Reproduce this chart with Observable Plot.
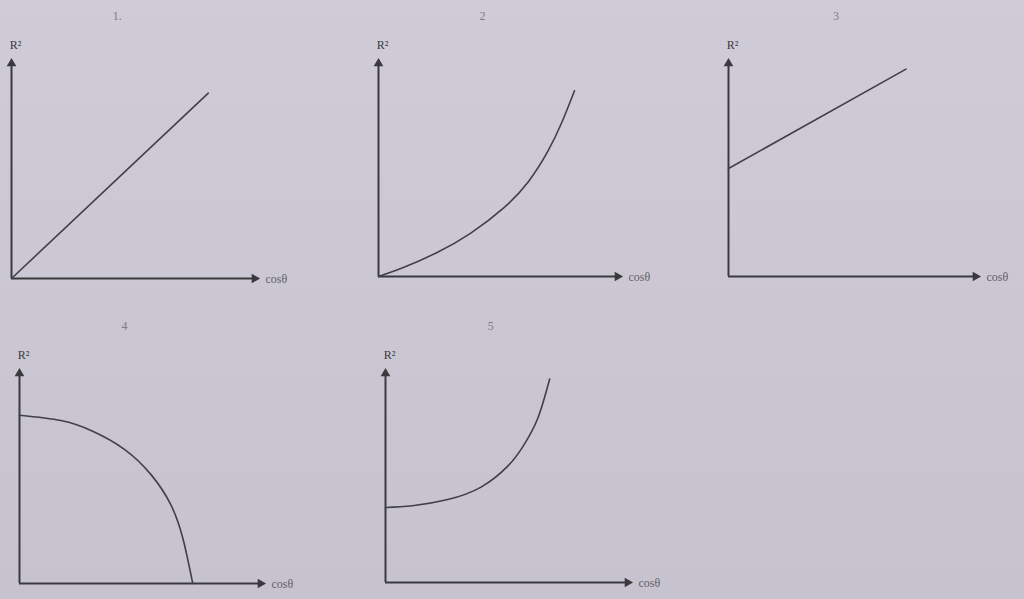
<!DOCTYPE html>
<html>
<head>
<meta charset="utf-8">
<script src="https://cdn.jsdelivr.net/npm/d3@7"></script>
<script src="https://cdn.jsdelivr.net/npm/@observablehq/plot@0.6"></script>
<style>
  html, body { margin: 0; padding: 0; width: 1024px; height: 599px; overflow: hidden; }
  body { background: linear-gradient(180deg, #d0ccd7 0%, #cbc7d2 55%, #c7c3ce 100%); }
  #wrap { position: relative; width: 1024px; height: 599px; }
  #wrap > svg { position: absolute; background: transparent; overflow: visible; }
</style>
</head>
<body>
<div id="wrap"></div>
<script>
// ---- data (normalised: cosθ on x from 0 to 1, R² on y from 0 to 1) ----
const panelTitles = ["1.", "2", "3", "4", "5"];
const yLabel = "R²";
const xLabel = "cosθ";

const p1X = [0, 0.80];
const p1Y = [0, 0.85];

const p2X = [0, 0.10, 0.24, 0.38, 0.52, 0.62, 0.70, 0.76, 0.81];
const p2Y = [0, 0.04, 0.11, 0.20, 0.32, 0.44, 0.58, 0.72, 0.86];

const p3X = [0, 0.71];
const p3Y = [0.50, 0.96];

const p4X = [0, 0.17, 0.30, 0.43, 0.54, 0.62, 0.67, 0.71];
const p4Y = [0.79, 0.765, 0.715, 0.63, 0.51, 0.37, 0.21, 0];

const p5X = [0, 0.11, 0.25, 0.39, 0.50, 0.56, 0.62, 0.67];
const p5Y = [0.354, 0.362, 0.39, 0.45, 0.55, 0.64, 0.77, 0.96];

const seriesX = [p1X, p2X, p3X, p4X, p5X];
const seriesY = [p1Y, p2Y, p3Y, p4Y, p5Y];

// ---- layout: axis origin and arrow tips of each panel, in page pixels ----
const layout = [
  {ox: 11,  oy: 278, xt: 257, yt: 60},
  {ox: 378, oy: 276, xt: 620, yt: 60},
  {ox: 728, oy: 276, xt: 978, yt: 60},
  {ox: 19,  oy: 583, xt: 263, yt: 370},
  {ox: 385, oy: 582, xt: 630, yt: 370}
];

const ML = 20, MR = 50, MT = 60, MB = 12;
const ink = "#3a3a3e";
const wrap = document.getElementById("wrap");

layout.forEach((L, i) => {
  const pts = seriesX[i].map((x, k) => ({x, y: seriesY[i][k]}));
  const width = L.xt - L.ox + ML + MR;
  const height = L.oy - L.yt + MT + MB;
  const chart = Plot.plot({
    width, height,
    marginLeft: ML, marginRight: MR, marginTop: MT, marginBottom: MB,
    x: {domain: [0, 1], axis: null},
    y: {domain: [0, 1], axis: null},
    style: {background: "transparent", fontFamily: "Liberation Serif, DejaVu Serif, serif", overflow: "visible"},
    marks: [
      Plot.ruleY([0], {x1: 0, x2: 0.985, stroke: ink, strokeWidth: 2}),
      Plot.ruleX([0], {y1: 0, y2: 0.985, stroke: ink, strokeWidth: 2}),
      Plot.dot([{x: 1, y: 0}], {x: "x", y: "y", symbol: "triangle", r: 3.6, fill: ink, stroke: "none", rotate: 90, dx: -3}),
      Plot.dot([{x: 0, y: 1}], {x: "x", y: "y", symbol: "triangle", r: 3.6, fill: ink, stroke: "none", rotate: 0, dy: 3}),
      Plot.line(pts, {x: "x", y: "y", curve: "natural", stroke: "#404045", strokeWidth: 1.6}),
      Plot.text([yLabel], {x: 0, y: 1, text: d => d, dx: 4, dy: -15, fontSize: 12, fill: "#3a3a3e"}),
      Plot.text([xLabel], {x: 1, y: 0, text: d => d, dx: 8, dy: 1, textAnchor: "start", fontSize: 12, fill: "#625f68"}),
      Plot.text([panelTitles[i]], {x: 0.43, y: 1, text: d => d, dy: -44, fontSize: 12, fill: "#7d7a84"})
    ]
  });
  chart.style.left = (L.ox - ML) + "px";
  chart.style.top = (L.yt - MT) + "px";
  wrap.appendChild(chart);
});
</script>
</body>
</html>
